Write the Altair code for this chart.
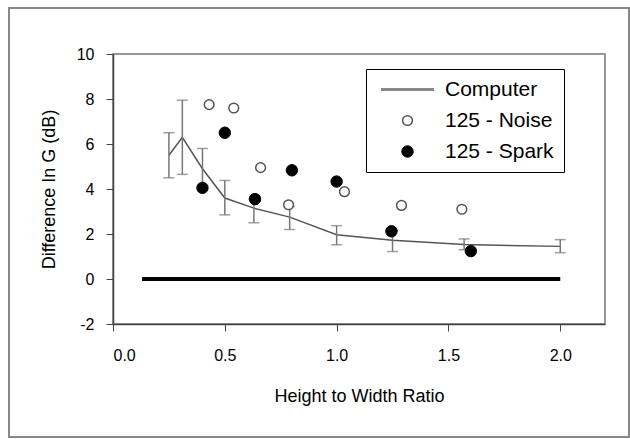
import altair as alt
import pandas as pd

# Computer model (line with error bars)
comp_x = [0.25, 0.31, 0.40, 0.50, 0.63, 0.79, 1.00, 1.25, 1.57, 2.00]
comp_y = [5.5, 6.3, 4.9, 3.6, 3.15, 2.75, 1.97, 1.72, 1.53, 1.45]
comp_hi = [6.5, 7.95, 5.8, 4.38, 3.55, 3.22, 2.37, 2.15, 1.78, 1.75]
comp_lo = [4.5, 4.65, 4.0, 2.85, 2.5, 2.2, 1.52, 1.22, 1.3, 1.17]

# 1:25 scale model measurements
noise_x = [0.43, 0.54, 0.66, 0.785, 1.035, 1.29, 1.56]
noise_y = [7.75, 7.6, 4.95, 3.3, 3.88, 3.27, 3.1]
spark_x = [0.40, 0.50, 0.635, 0.80, 1.00, 1.245, 1.60]
spark_y = [4.05, 6.5, 3.55, 4.83, 4.33, 2.12, 1.24]

# zero reference line
zero_x = [0.13, 2.0]
zero_y = [0, 0]

series_names = ["Computer", "125 - Noise", "125 - Spark"]
x_ticks = [0.0, 0.5, 1.0, 1.5, 2.0]
y_ticks = [-2, 0, 2, 4, 6, 8, 10]

FONT = "Liberation Sans"

comp = pd.DataFrame({"x": comp_x, "y": comp_y, "hi": comp_hi, "lo": comp_lo})
pts = pd.concat([
    pd.DataFrame({"x": noise_x, "y": noise_y, "series": series_names[1]}),
    pd.DataFrame({"x": spark_x, "y": spark_y, "series": series_names[2]}),
])
zero = pd.DataFrame({"x": zero_x, "y": zero_y})

xs = alt.Scale(domain=[0, 2.2], nice=False, zero=False)
ys = alt.Scale(domain=[-2, 10], nice=False)

xax = alt.Axis(values=x_ticks, format=".1f", title="Height to Width Ratio",
               grid=False, tickSize=7, labelPadding=16, titlePadding=24,
               domainColor="#444", tickColor="#444", domainWidth=1.5)
yax = alt.Axis(values=y_ticks, title="Difference In G (dB)", grid=False,
               tickSize=7, labelPadding=12, titlePadding=18,
               labelExpr="datum.value < 0 ? '-' + abs(datum.value) : datum.label",
               domainColor="#444", tickColor="#444", domainWidth=1.5)

border = alt.Chart(pd.DataFrame({"a": [0]})).mark_rect(
    fill=None, stroke="#888", strokeWidth=2
).encode(x=alt.value(-104), x2=alt.value(516), y=alt.value(-46), y2=alt.value(383))

zline = alt.Chart(zero).mark_line(color="black", strokeWidth=4).encode(
    x=alt.X("x:Q", scale=xs, axis=xax),
    y=alt.Y("y:Q", scale=ys, axis=yax),
)

cline = alt.Chart(comp).mark_line(color="#555", strokeWidth=1.5).encode(
    x=alt.X("x:Q", scale=xs), y=alt.Y("y:Q", scale=ys))

erule = alt.Chart(comp).mark_rule(color="#777", strokeWidth=1.5).encode(
    x=alt.X("x:Q", scale=xs), y=alt.Y("lo:Q", scale=ys), y2="hi:Q")
cap_hi = alt.Chart(comp).mark_tick(color="#777", thickness=1.5, size=11, orient="horizontal").encode(
    x=alt.X("x:Q", scale=xs), y=alt.Y("hi:Q", scale=ys))
cap_lo = alt.Chart(comp).mark_tick(color="#777", thickness=1.5, size=11, orient="horizontal").encode(
    x=alt.X("x:Q", scale=xs), y=alt.Y("lo:Q", scale=ys))

legend = alt.Legend(title=None, orient="none", legendX=253, legendY=15,
                    padding=10, symbolOffset=21, strokeColor="black", fillColor="white",
                    labelFont=FONT, labelFontSize=21, labelColor="black",
                    labelOffset=27, rowPadding=9, labelLimit=300)

points = alt.Chart(pts).mark_point(filled=False, opacity=1).encode(
    x=alt.X("x:Q", scale=xs), y=alt.Y("y:Q", scale=ys),
    shape=alt.Shape("series:N", scale=alt.Scale(domain=series_names,
                    range=["M-3,0H3", "circle", "circle"]), legend=legend),
    fill=alt.Fill("series:N", scale=alt.Scale(domain=series_names,
                  range=["#888888", "white", "black"]), legend=legend),
    stroke=alt.Stroke("series:N", scale=alt.Scale(domain=series_names,
                      range=["#888888", "#555555", "black"]), legend=legend),
    size=alt.Size("series:N", scale=alt.Scale(type="ordinal", domain=series_names,
                  range=[312, 95, 130]), legend=legend),
    strokeWidth=alt.StrokeWidth("series:N", scale=alt.Scale(type="ordinal", domain=series_names,
                                range=[3, 1.5, 1]), legend=legend),
)

chart = alt.layer(border, zline, cline, erule, cap_hi, cap_lo, points).properties(
    width=492, height=270,
    padding={"left": 8, "top": 7, "right": 0, "bottom": 3},
).configure_view(stroke="#777", strokeWidth=1.5).configure_axis(
    labelFont=FONT, titleFont=FONT, labelFontSize=16, titleFontSize=18,
    titleFontWeight="normal", labelColor="black", titleColor="black"
)

chart.save("out.html", embed_options={"renderer": "svg", "actions": False})
